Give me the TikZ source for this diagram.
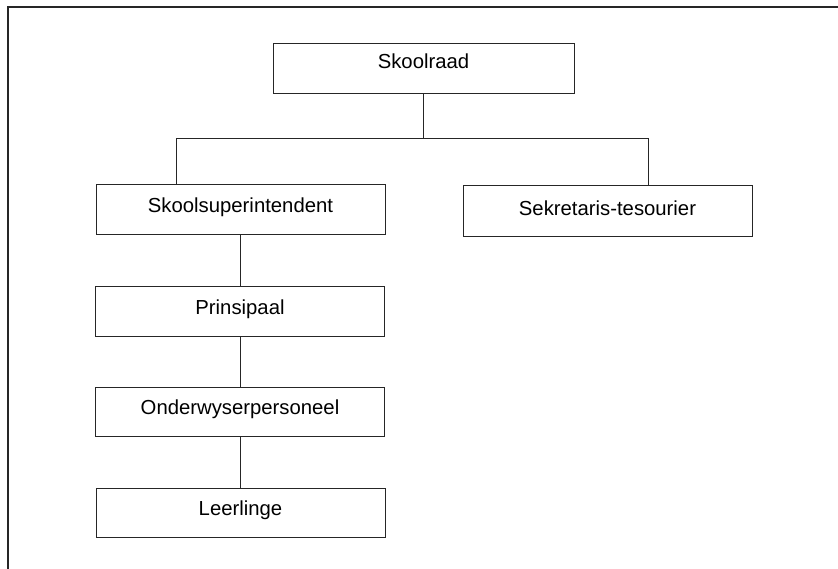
\documentclass[tikz,border=0pt]{standalone}
\usepackage{fontspec}
\setmainfont{Liberation Sans}
\begin{document}
\begin{tikzpicture}[x=1pt,y=-1pt,
  line color/.style={draw=black!85},
  orgbox/.style={line color, line width=0.8pt, rectangle, inner sep=0pt,
    minimum width=289pt, text height=28pt, text depth=22pt, anchor=north,
    font=\fontsize{20.3}{24}\selectfont},
  link/.style={line color, line width=0.7pt}]
  \useasboundingbox (0,0) rectangle (838,569);

  % outer frame (top and left edges)
  \draw[line color, line width=1.1pt] (8,569) -- (8,7) -- (838,7);

  % boxes
  \node[orgbox, minimum width=301pt, text height=25.3pt, text depth=25pt]
    (raad) at (423.5,42.7) {Skoolraad};
  \node[orgbox] (super) at (240.5,184) {Skoolsuperintendent};
  \node[orgbox, text height=29.5pt, text depth=20.8pt]
    (sekr) at (607.5,185.5) {Sekretaris-tesourier};
  \node[orgbox] (prin) at (240,286) {Prinsipaal};
  \node[orgbox, text height=27.3pt] (onder) at (240,386.7) {Onderwyserpersoneel};
  \node[orgbox, text height=27.3pt] (leer) at (240.5,487.7) {Leerlinge};

  % branch bus under the board
  \coordinate (busL) at (176,138.5);
  \coordinate (busR) at (648,138.5);

  \draw[link] (raad.south) -- (raad.south |- busL);
  \draw[link] (super.north -| busL) -- (busL) -- (busR) -- (sekr.north -| busR);
  \draw[link] (super.south) -- (super.south |- prin.north);
  \draw[link] (prin.south) -- (prin.south |- onder.north);
  \draw[link] (onder.south) -- (onder.south |- leer.north);
\end{tikzpicture}
\end{document}
